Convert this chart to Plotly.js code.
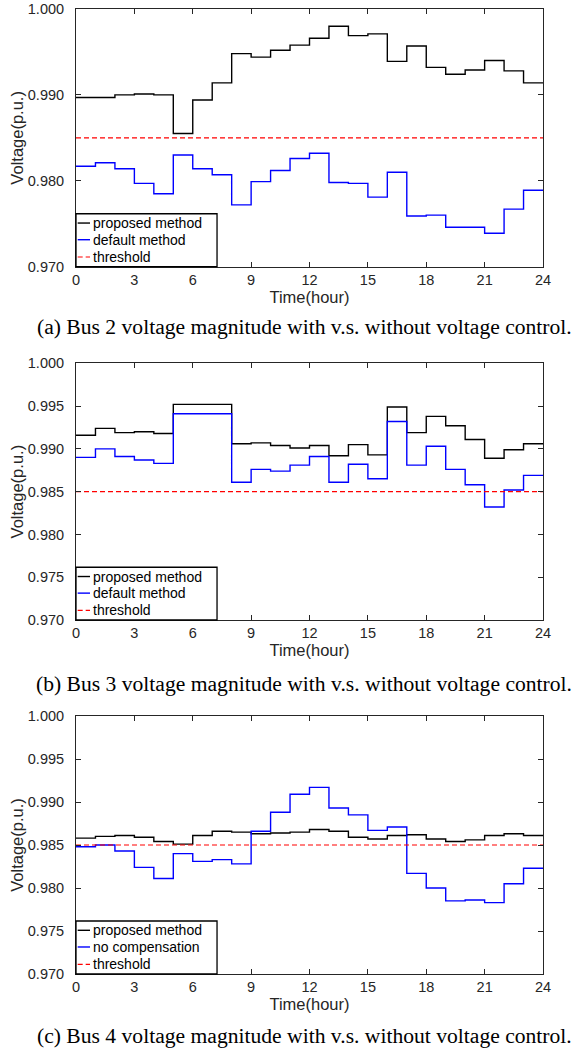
<!DOCTYPE html>
<html>
<head>
<meta charset="utf-8">
<script src="https://cdn.plot.ly/plotly-3.0.1.min.js"></script>
<style>
html,body{margin:0;padding:0;background:#fff;}
#chart{width:576px;height:1053px;}
</style>
</head>
<body>
<div id="chart"></div>
<script>
// ---- data (hourly step values) ----
const hours = [0,1,2,3,4,5,6,7,8,9,10,11,12,13,14,15,16,17,18,19,20,21,22,23];
const threshold = 0.985;

// (a) Bus 2
const bus2Proposed = [0.9897,0.9897,0.9900,0.9901,0.9900,0.9855,0.9894,0.9914,0.9948,0.9944,0.9952,0.9958,0.9966,0.9980,0.9969,0.9971,0.9939,0.9957,0.9932,0.9924,0.9929,0.9940,0.9928,0.9914];
const bus2Default  = [0.9817,0.9821,0.9814,0.9797,0.9785,0.9830,0.9814,0.9807,0.9772,0.9799,0.9812,0.9826,0.9832,0.9798,0.9797,0.9781,0.9810,0.9759,0.9760,0.9746,0.9746,0.9739,0.9767,0.9789];

// (b) Bus 3
const bus3Proposed = [0.9916,0.9924,0.9919,0.9920,0.9918,0.9952,0.9952,0.9952,0.9906,0.9907,0.9904,0.9901,0.9904,0.9892,0.9905,0.9893,0.9949,0.9919,0.9938,0.9927,0.9911,0.9889,0.9899,0.9906];
const bus3Default  = [0.9890,0.9900,0.9891,0.9887,0.9883,0.9941,0.9941,0.9941,0.9861,0.9876,0.9874,0.9881,0.9891,0.9861,0.9882,0.9865,0.9932,0.9881,0.9903,0.9876,0.9858,0.9832,0.9852,0.9869];

// (c) Bus 4
const bus4Proposed = [0.9858,0.9860,0.9861,0.9859,0.9854,0.9851,0.9861,0.9866,0.9865,0.9863,0.9864,0.9865,0.9868,0.9866,0.9859,0.9857,0.9861,0.9862,0.9857,0.9854,0.9856,0.9861,0.9863,0.9861];
const bus4NoComp   = [0.9848,0.9850,0.9843,0.9824,0.9811,0.9840,0.9831,0.9833,0.9828,0.9866,0.9888,0.9909,0.9917,0.9893,0.9885,0.9867,0.9871,0.9817,0.9800,0.9785,0.9786,0.9783,0.9805,0.9823];

const legendNames = [
  ["proposed method","default method","threshold"],
  ["proposed method","default method","threshold"],
  ["proposed method","no compensation","threshold"]
];
const captions = [
  "(a) Bus 2 voltage magnitude with v.s. without voltage control.",
  "(b) Bus 3 voltage magnitude with v.s. without voltage control.",
  "(c) Bus 4 voltage magnitude with v.s. without voltage control."
];

// ---- styles ----
const seriesColors = ['#000000', '#0000ff', '#ff0000'];
const seriesDash = ['solid', 'solid', '5px,3px'];
const seriesWidth = [1.4, 1.4, 1.2];

// ---- build traces ----
function stepX(h){ return h.concat([h[h.length-1]+1]); }
function stepY(v){ return v.concat([v[v.length-1]]); }

const panels = [
  [bus2Proposed, bus2Default],
  [bus3Proposed, bus3Default],
  [bus4Proposed, bus4NoComp]
];
const traces = [];
panels.forEach((p, i) => {
  const ax = i === 0 ? '' : String(i+1);
  traces.push({x: stepX(hours), y: stepY(p[0]), mode:'lines',
    line:{shape:'hv', color:seriesColors[0], width:seriesWidth[0]},
    name: legendNames[i][0], xaxis:'x'+ax, yaxis:'y'+ax});
  traces.push({x: stepX(hours), y: stepY(p[1]), mode:'lines',
    line:{shape:'hv', color:seriesColors[1], width:seriesWidth[1]},
    name: legendNames[i][1], xaxis:'x'+ax, yaxis:'y'+ax});
  traces.push({x: [0, 24], y: [threshold, threshold], mode:'lines',
    line:{color:seriesColors[2], width:seriesWidth[2], dash:seriesDash[2]},
    name: legendNames[i][2], xaxis:'x'+ax, yaxis:'y'+ax});
});

// ---- layout ----
const xDom = [76/576, 543/576];
const yDoms = [
  [1-266.7/1053, 1-9/1053],
  [1-620/1053, 1-363.3/1053],
  [1-974/1053, 1-716/1053]
];
const capY = [1-327/1053, 1-684/1053, 1-1035.5/1053];
const dticks = [0.01, 0.005, 0.005];
const FONT = 'Liberation Sans, Arial, Helvetica, sans-serif';
const axColor = '#262626';

const layout = {
  width: 576, height: 1053,
  margin: {l:0, r:0, t:0, b:0},
  paper_bgcolor: '#ffffff', plot_bgcolor: '#ffffff',
  font: {family: FONT, size: 14, color: axColor},
  showlegend: false,
  annotations: [],
  shapes: []
};

// legend box geometry (fractions of each plot area)
const lgW = 0.302, lgH = 0.2054;
const lgRowY = [0.1694, 0.1047, 0.0376];
const lgLineX = [0.0036, 0.030];
const lgTextX = 0.0336;

for (let i = 0; i < 3; i++) {
  const s = i === 0 ? '' : String(i+1);
  layout['xaxis'+s] = {
    domain: xDom, range: [0, 24], dtick: 3, tick0: 0, anchor: 'y'+s,
    showline: true, linecolor: axColor, linewidth: 1, mirror: 'ticks',
    ticks: 'inside', ticklen: 5, tickcolor: axColor, showgrid: false, zeroline: false,
    tickfont: {family: FONT, size: 14.5, color: axColor},
    title: {text: 'Time(hour)', font: {family: FONT, size: 16.5, color: axColor}, standoff: 3}
  };
  layout['yaxis'+s] = {
    domain: yDoms[i], range: [0.97, 1.0], dtick: dticks[i], tick0: 0.97, anchor: 'x'+s,
    tickformat: '.3f',
    showline: true, linecolor: axColor, linewidth: 1, mirror: 'ticks',
    ticks: 'inside', ticklen: 5, tickcolor: axColor, showgrid: false, zeroline: false,
    tickfont: {family: FONT, size: 14.5, color: axColor}, ticklabelstandoff: 8,
    title: {text: 'Voltage(p.u.)', font: {family: FONT, size: 16.5, color: axColor}, standoff: 0}
  };

  // legend (box, samples, labels)
  const xr = 'x' + s + ' domain', yr = 'y' + s + ' domain';
  layout.shapes.push({type:'rect', xref:xr, yref:yr, x0:0, x1:lgW, y0:0, y1:lgH,
    line:{color:'#000000', width:1.3}, fillcolor:'#ffffff', layer:'above'});
  for (let k = 0; k < 3; k++) {
    layout.shapes.push({type:'line', xref:xr, yref:yr, x0:lgLineX[0], x1:lgLineX[1], y0:lgRowY[k], y1:lgRowY[k],
      line:{color:seriesColors[k], width:seriesWidth[k], dash:seriesDash[k]}, layer:'above'});
    layout.annotations.push({xref:xr, yref:yr, x:lgTextX, y:lgRowY[k], xanchor:'left', yanchor:'middle',
      showarrow:false, text:legendNames[i][k], borderpad:0,
      font:{family:FONT, size:14, color:'#000000'}});
  }

  layout.annotations.push({
    xref: 'paper', yref: 'paper', x: 304/576, y: capY[i], xanchor: 'center', yanchor: 'middle',
    showarrow: false, text: captions[i],
    font: {family: 'Liberation Serif, Times New Roman, serif', size: 21.6, color: '#000000'}
  });
}

Plotly.newPlot('chart', traces, layout, {displayModeBar: false, staticPlot: true});
</script>
</body>
</html>
